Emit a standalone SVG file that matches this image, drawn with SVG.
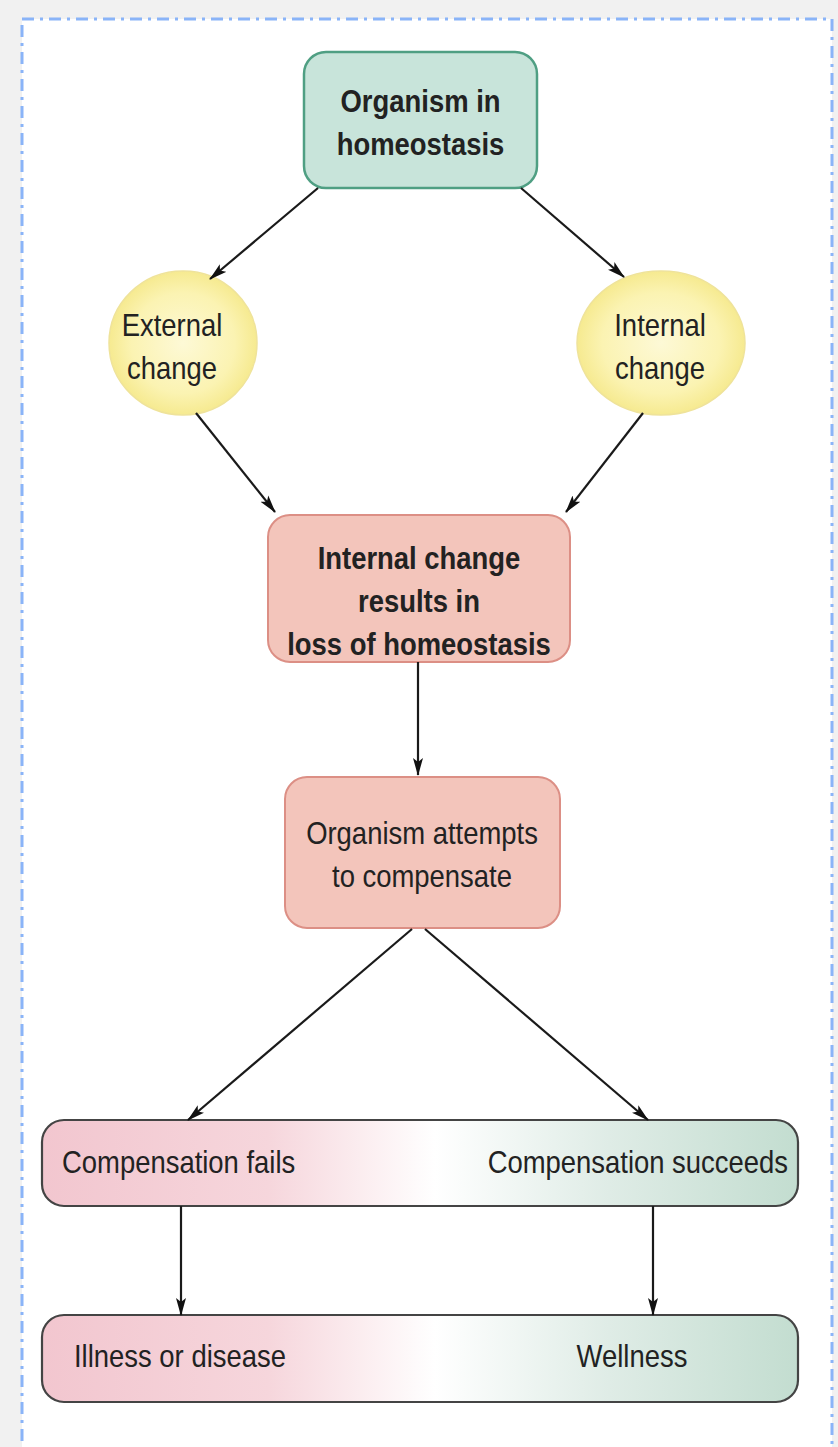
<svg xmlns="http://www.w3.org/2000/svg" width="838" height="1447" viewBox="0 0 838 1447">
<style>
.t{font-family:"Liberation Sans",Arial,sans-serif;font-size:31px;fill:#222;text-anchor:middle}
.b{font-weight:bold}
.l{text-anchor:start}
.r{text-anchor:end}
.conn line{stroke:#1a1a1a;stroke-width:2.2;marker-end:url(#ah)}
</style>
<defs>
<marker id="ah" markerUnits="userSpaceOnUse" viewBox="0 0 18 11" markerWidth="18" markerHeight="11" refX="17" refY="5.5" orient="auto">
<path d="M0,0.5 L18,5.5 L0,10.5 L4,5.5 z" fill="#111"/>
</marker>
<radialGradient id="yel" cx="50%" cy="50%" r="50%">
<stop offset="0" stop-color="#fdf9d6"/>
<stop offset="0.7" stop-color="#fbf3b2"/>
<stop offset="1" stop-color="#f6ea90"/>
</radialGradient>
<linearGradient id="bar" x1="0" y1="0" x2="1" y2="0">
<stop offset="0" stop-color="#f2c6cf"/>
<stop offset="0.3" stop-color="#f6d6dc"/>
<stop offset="0.52" stop-color="#ffffff"/>
<stop offset="0.75" stop-color="#dfece6"/>
<stop offset="1" stop-color="#c3ddd0"/>
</linearGradient>
</defs>
<rect x="0" y="0" width="838" height="1447" fill="#f1f1f1"/>
<rect x="22" y="19" width="810" height="1440" fill="#ffffff" stroke="#8ab4f8" stroke-width="3" stroke-dasharray="12 6 3 6"/>

<g id="n-homeostasis">
<rect x="304" y="52" width="233" height="136" rx="22" fill="#c8e4da" stroke="#4f9f83" stroke-width="2.5"/>
<text class="t b" transform="translate(420.5 112) scale(0.885 1)">Organism in</text>
<text class="t b" transform="translate(420.5 155) scale(0.885 1)">homeostasis</text>
</g>
<g id="n-external">
<ellipse cx="183" cy="343" rx="74" ry="72" fill="url(#yel)" stroke="#efe39a" stroke-width="1.5"/>
<text class="t" transform="translate(172 336) scale(0.885 1)">External</text>
<text class="t" transform="translate(172 379) scale(0.885 1)">change</text>
</g>
<g id="n-internal">
<ellipse cx="661" cy="343" rx="84" ry="72" fill="url(#yel)" stroke="#efe39a" stroke-width="1.5"/>
<text class="t" transform="translate(660 336) scale(0.885 1)">Internal</text>
<text class="t" transform="translate(660 379) scale(0.885 1)">change</text>
</g>
<g id="n-loss">
<rect x="268" y="515" width="302" height="147" rx="22" fill="#f3c5bb" stroke="#dc8f85" stroke-width="2"/>
<text class="t b" transform="translate(419 569) scale(0.885 1)">Internal change</text>
<text class="t b" transform="translate(419 612) scale(0.885 1)">results in</text>
<text class="t b" transform="translate(419 655) scale(0.885 1)">loss of homeostasis</text>
</g>
<g id="n-compensate">
<rect x="285" y="777" width="275" height="151" rx="22" fill="#f3c5bb" stroke="#dc8f85" stroke-width="2"/>
<text class="t" transform="translate(422 844) scale(0.885 1)">Organism attempts</text>
<text class="t" transform="translate(422 887) scale(0.885 1)">to compensate</text>
</g>
<g id="n-outcome">
<rect x="42" y="1120" width="756" height="86" rx="22" fill="url(#bar)" stroke="#444" stroke-width="2.2"/>
<text class="t l" transform="translate(62 1173) scale(0.885 1)">Compensation fails</text>
<text class="t r" transform="translate(788 1173) scale(0.885 1)">Compensation succeeds</text>
</g>
<g id="n-result">
<rect x="42" y="1315" width="756" height="87" rx="22" fill="url(#bar)" stroke="#444" stroke-width="2.2"/>
<text class="t l" transform="translate(74 1367) scale(0.885 1)">Illness or disease</text>
<text class="t" transform="translate(632 1367) scale(0.885 1)">Wellness</text>
</g>

<g id="connectors" class="conn">
<line x1="318" y1="188" x2="210" y2="279"/>
<line x1="521" y1="188" x2="624" y2="277"/>
<line x1="196" y1="413" x2="275" y2="512"/>
<line x1="643" y1="413" x2="566" y2="512"/>
<line x1="418" y1="662" x2="418" y2="775"/>
<line x1="412" y1="929" x2="188" y2="1120"/>
<line x1="425" y1="929" x2="648" y2="1120"/>
<line x1="181" y1="1206" x2="181" y2="1315"/>
<line x1="653" y1="1206" x2="653" y2="1315"/>
</g>
</svg>
